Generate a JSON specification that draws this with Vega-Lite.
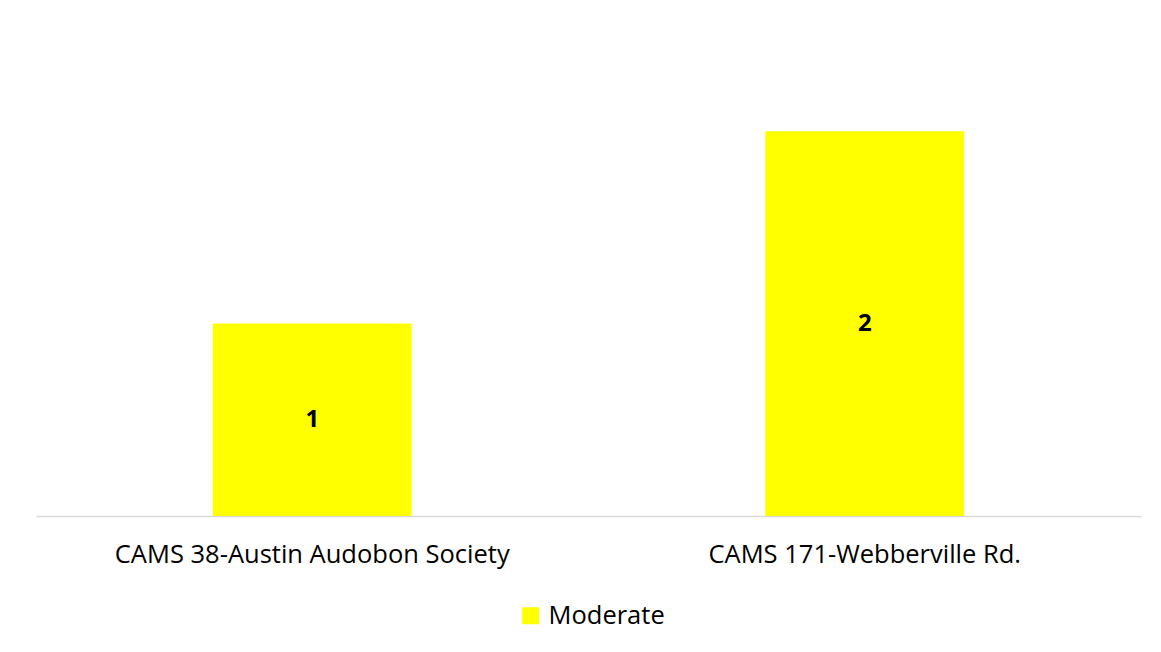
{
  "$schema": "https://vega.github.io/schema/vega-lite/v6.json",
  "width": 1105,
  "height": 481,
  "autosize": {"type": "none"},
  "padding": {"left": 36, "top": 35, "right": 20, "bottom": 136},
  "background": "white",
  "config": {
    "view": {"stroke": null},
    "font": "Open Sans"
  },
  "data": {
    "values": [
      {"site": "CAMS 38-Austin Audobon Society", "value": 1, "series": "Moderate"},
      {"site": "CAMS 171-Webberville Rd.", "value": 2, "series": "Moderate"}
    ]
  },
  "layer": [
    {
      "mark": {"type": "bar", "color": "#FFFF00"},
      "encoding": {
        "x": {
          "field": "site",
          "type": "nominal",
          "sort": null,
          "scale": {"paddingInner": 0.64, "paddingOuter": 0.32},
          "axis": {
            "title": null,
            "labelAngle": 0,
            "ticks": false,
            "domainColor": "#d9d9d9",
            "domainWidth": 1.5,
            "labelFont": "Open Sans",
            "labelFontSize": 25.5,
            "labelColor": "#000000",
            "labelPadding": 26,
            "labelLimit": 600
          }
        },
        "y": {
          "field": "value",
          "type": "quantitative",
          "scale": {"domain": [0, 2.5], "nice": false},
          "axis": null
        },
        "color": {
          "field": "series",
          "type": "nominal",
          "scale": {"range": ["#FFFF00"]},
          "legend": {
            "title": null,
            "orient": "none",
            "legendX": 482,
            "legendY": 568,
            "padding": 0,
            "symbolType": "square",
            "symbolSize": 289,
            "symbolStrokeWidth": 0,
            "symbolOpacity": 1,
            "labelFont": "Open Sans",
            "labelFontSize": 25.5,
            "labelColor": "#000000",
            "labelOffset": 5
          }
        }
      }
    },
    {
      "mark": {"type": "text", "fontSize": 24, "fontWeight": "bold", "color": "#000000", "baseline": "middle"},
      "encoding": {
        "x": {"field": "site", "type": "nominal", "sort": null},
        "y": {
          "field": "value",
          "type": "quantitative",
          "scale": {"domain": [0, 5], "nice": false},
          "axis": null
        },
        "text": {"field": "value", "type": "quantitative"}
      }
    }
  ],
  "resolve": {"scale": {"y": "independent"}}
}
